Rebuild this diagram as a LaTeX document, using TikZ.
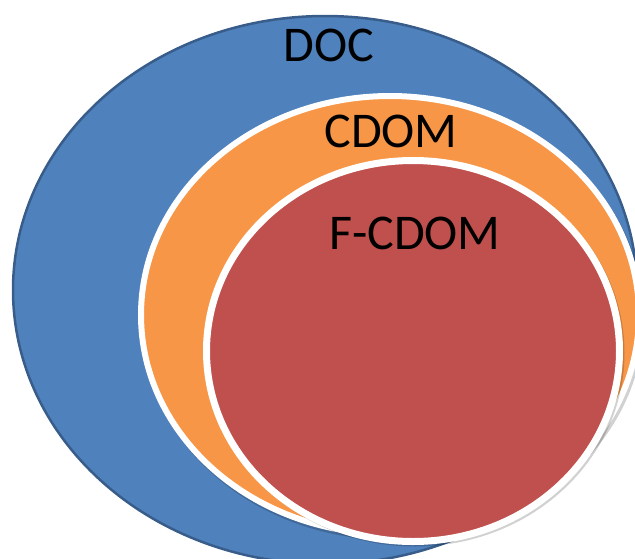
\documentclass[tikz,border=0pt]{standalone}
\usepackage{fontspec}
\setmainfont{Carlito}

\definecolor{docblue}{HTML}{4F81BD}
\definecolor{docline}{HTML}{385D8A}
\definecolor{cdomorange}{HTML}{F79646}
\definecolor{fcdomred}{HTML}{C0504D}

\begin{document}
\begin{tikzpicture}[x=1pt,y=-1pt,
    setname/.style={font=\fontsize{50}{60}\selectfont, text=black, anchor=base, inner sep=0pt},
    rimshadow/.style={draw=black, opacity=0.18, line width=6pt}]
    \useasboundingbox (0,0) rectangle (635,558);
    \clip (0,0) rectangle (635,558);

    % outer set
    \draw[fill=docblue, draw=docline, line width=2.5pt] (325,290) ellipse [x radius=312, y radius=274];

    % middle set, white rim
    \draw[rimshadow] (392,318) ellipse [x radius=249, y radius=219];
    \draw[fill=cdomorange, draw=white, line width=6pt] (390,315) ellipse [x radius=249, y radius=219];

    % inner set, white rim
    \draw[rimshadow] (415,353) ellipse [x radius=206.5, y radius=190.5];
    \draw[fill=fcdomred, draw=white, line width=7pt] (413,351) ellipse [x radius=206.5, y radius=190.5];

    \node[setname] (doc) at (329,61) {DOC};
    \node[setname] (cdom) at (391,147) {CDOM};
    \node[setname] (fcdom) at (415,249) {F-CDOM};
\end{tikzpicture}
\end{document}
